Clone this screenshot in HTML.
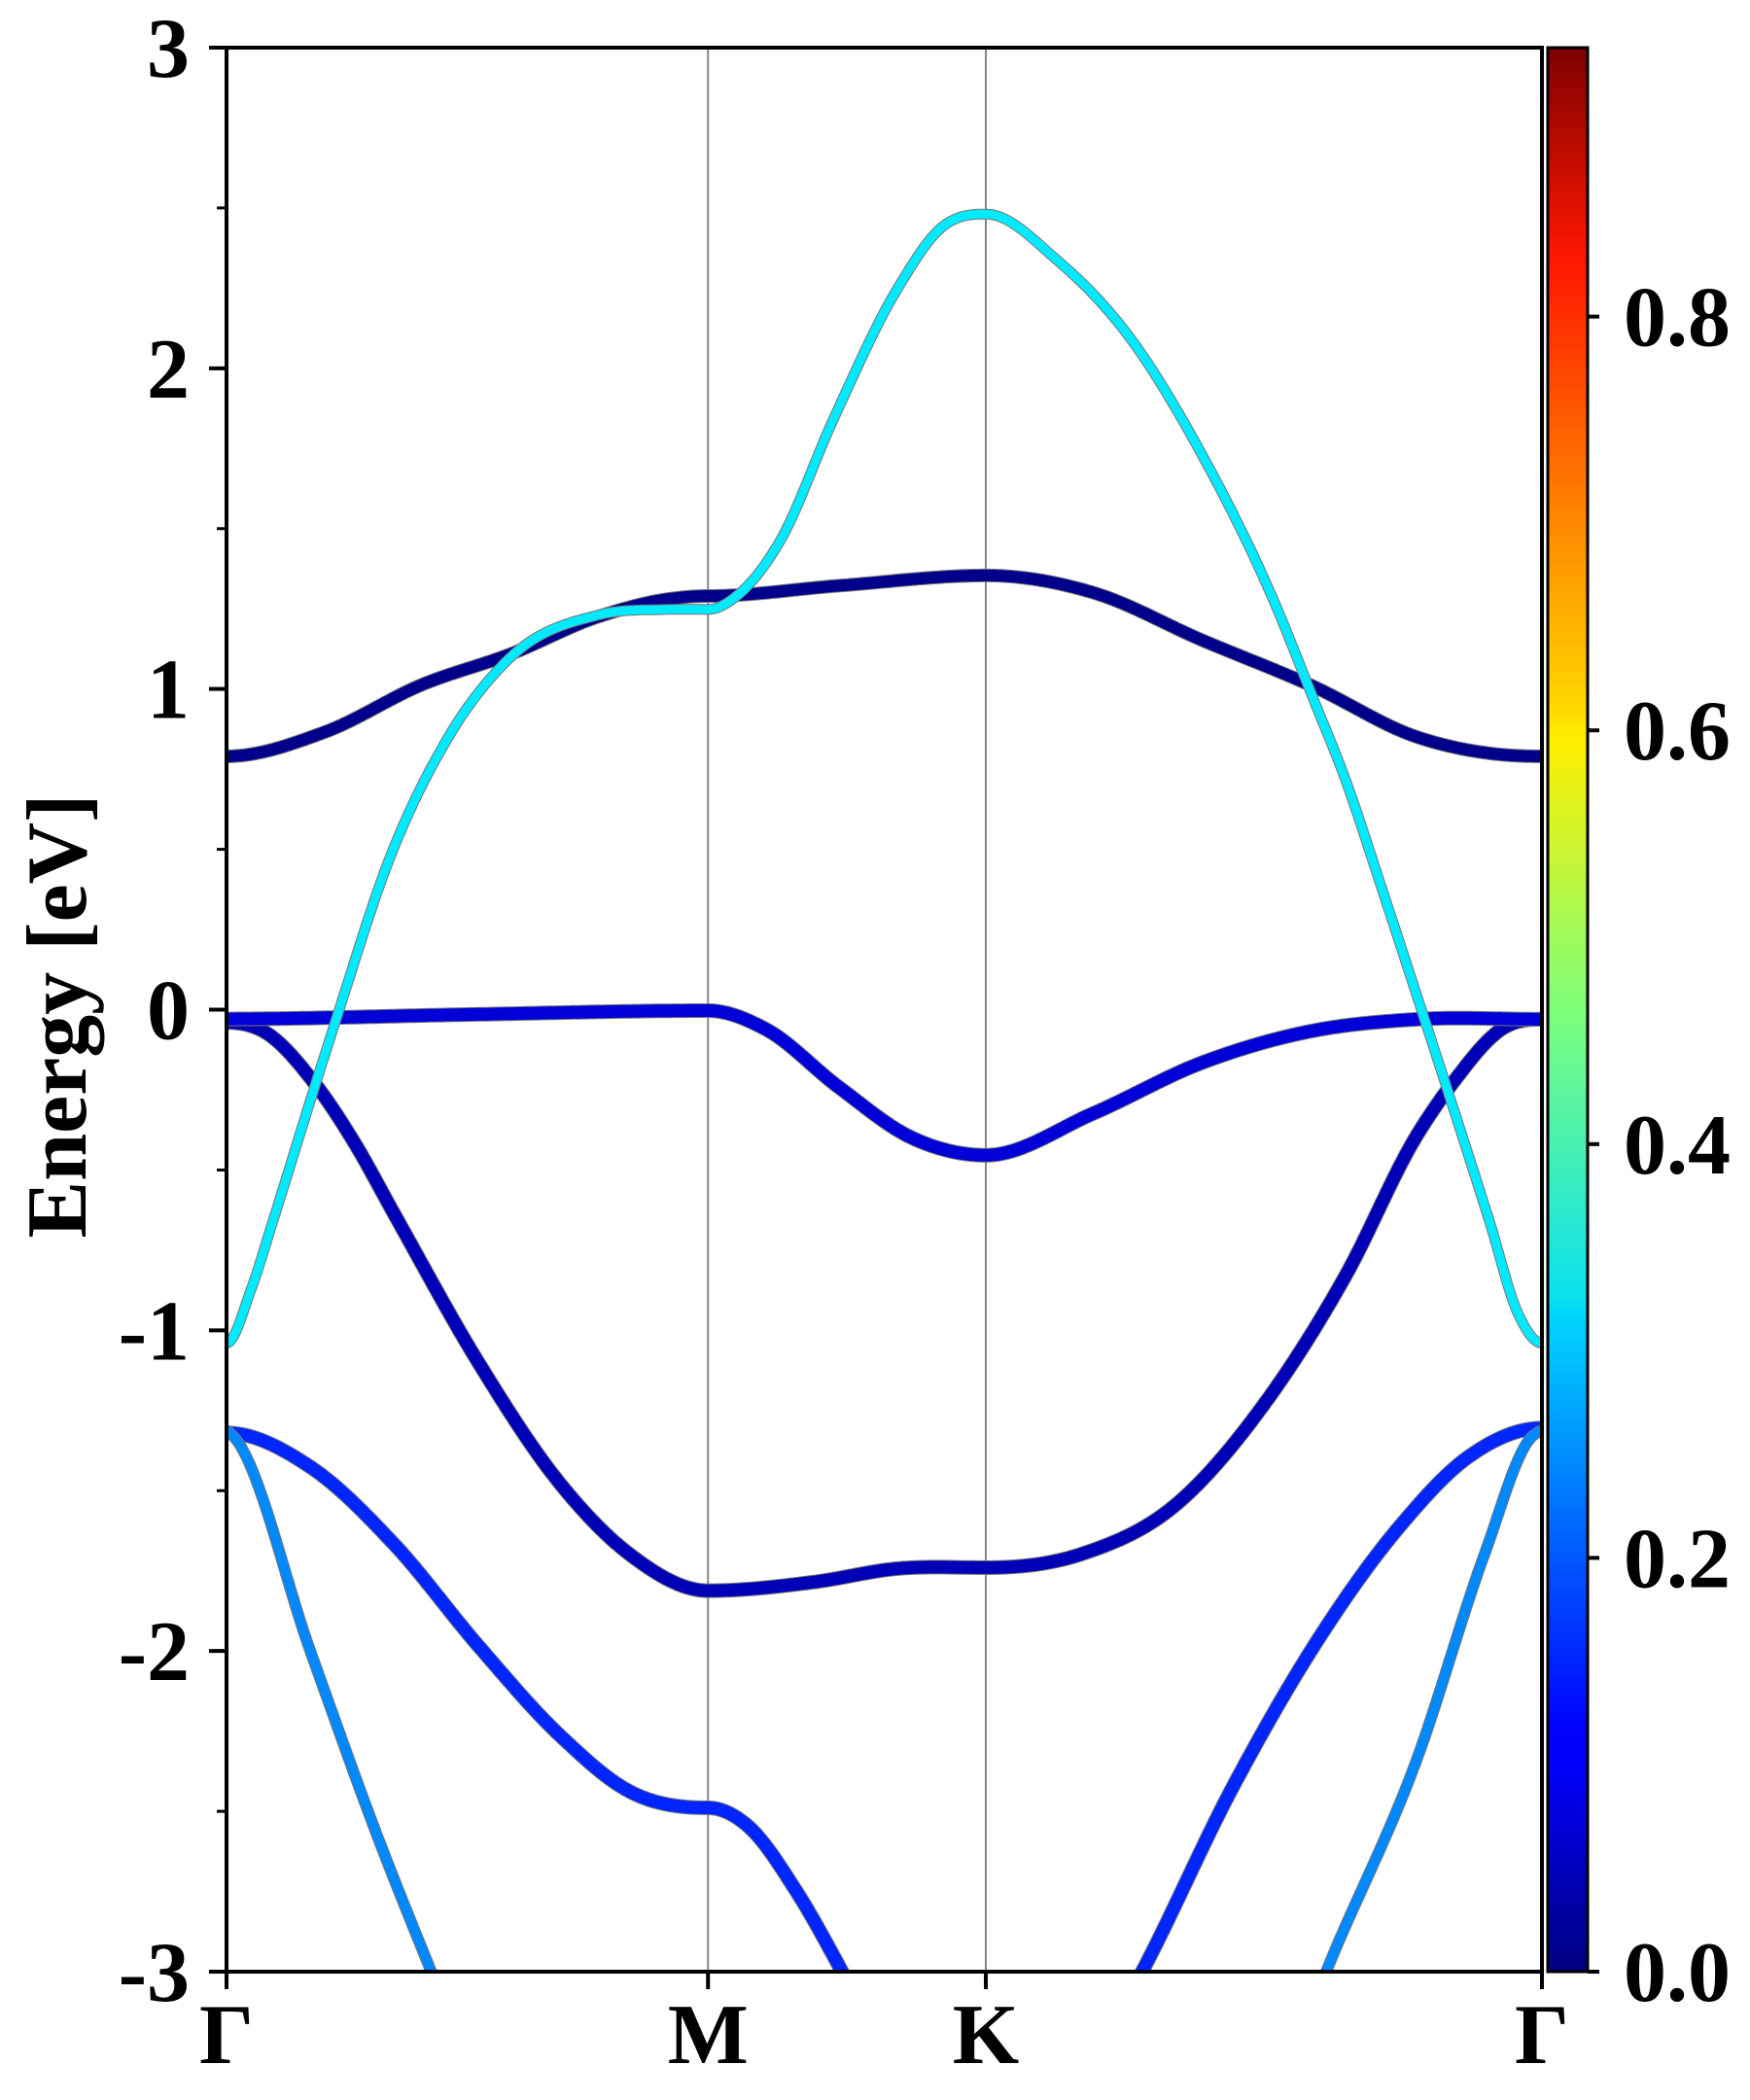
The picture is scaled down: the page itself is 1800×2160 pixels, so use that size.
<!DOCTYPE html>
<html><head><meta charset="utf-8">
<style>
html,body{margin:0;padding:0;background:#fff;overflow:hidden;width:1800px;height:2160px;}
svg{display:block;}
text{font-family:"Liberation Serif","DejaVu Serif",serif;font-weight:bold;fill:#000;}
</style></head>
<body>
<svg id="chart" width="1800" height="2160" viewBox="0 0 1800 2160" xmlns="http://www.w3.org/2000/svg">
<defs>
<clipPath id="plotclip"><rect x="233" y="49" width="1353" height="1979"/></clipPath>
<linearGradient id="jet" x1="0" y1="1" x2="0" y2="0">
<stop offset="0" stop-color="#00007f"/>
<stop offset="0.11" stop-color="#0000ff"/>
<stop offset="0.125" stop-color="#0000ff"/>
<stop offset="0.34" stop-color="#00d4ff"/>
<stop offset="0.35" stop-color="#0ae0f0"/>
<stop offset="0.5" stop-color="#7dff7a"/>
<stop offset="0.64" stop-color="#ffee00"/>
<stop offset="0.66" stop-color="#ffd400"/>
<stop offset="0.89" stop-color="#ff1700"/>
<stop offset="1" stop-color="#7f0000"/>
</linearGradient>
</defs>
<g id="plot"></g>
<g id="axes"></g>
<g id="cbar"></g>
<text x="0" y="0" font-size="88" text-anchor="middle" transform="translate(88,1045) rotate(-90)">Energy [eV]</text>
</svg>
<script>
// ---- data ----
const kLabels = ["Γ","M","K","Γ"];
const kTicks = [0, 1.0, 1.577, 2.732];
const yTicks = [-3,-2,-1,0,1,2,3];
const yTickLabels = ["-3","-2","-1","0","1","2","3"];
const cbTicks = [0.0,0.2,0.4,0.6,0.8];
const cbTickLabels = ["0.0","0.2","0.4","0.6","0.8"];
const cbMax = 0.93;

const bandCyanK = [0,0.052,0.10,0.183,0.234,0.336,0.458,0.590,0.773,0.915,1.0,1.068,1.149,1.261,1.393,1.485,1.577,1.726,1.876,2.025,2.175,2.257,2.324,2.399,2.473,2.540,2.623,2.683,2.732];
const bandCyanE = [-1.04,-0.868,-0.642,-0.241,0.0,0.461,0.843,1.099,1.231,1.248,1.248,1.301,1.46,1.843,2.247,2.439,2.481,2.336,2.096,1.733,1.275,0.97,0.717,0.38,0.04,-0.27,-0.66,-0.95,-1.04];
const bandCyanW = 0.33;

const bandTopK = [0,0.203,0.407,0.590,0.773,0.915,1.0,1.271,1.577,1.801,2.025,2.257,2.473,2.62,2.732];
const bandTopE = [0.79,0.865,1.014,1.109,1.226,1.28,1.29,1.322,1.354,1.30,1.153,1.008,0.85,0.80,0.79];
const bandTopW = 0.01;

const bandVbmK = [0,0.509,1.0,1.119,1.271,1.424,1.577,1.801,2.025,2.249,2.473,2.732];
const bandVbmE = [-0.029,-0.015,-0.003,-0.06,-0.241,-0.40,-0.454,-0.323,-0.166,-0.068,-0.03,-0.03];
const bandVbmW = 0.08;

const bandDK = [0,0.081,0.183,0.264,0.350,0.523,0.697,0.836,1.0,1.22,1.394,1.577,1.777,1.969,2.160,2.324,2.473,2.548,2.653,2.732];
const bandDE = [-0.04,-0.071,-0.23,-0.411,-0.642,-1.10,-1.486,-1.697,-1.812,-1.785,-1.743,-1.74,-1.697,-1.547,-1.22,-0.83,-0.39,-0.226,-0.056,-0.03];
const bandDW = 0.05;

const bandEK = [0,0.174,0.348,0.523,0.697,0.836,1.0,1.08,1.185,1.281,1.40,1.577,1.75,1.899,2.091,2.265,2.439,2.578,2.732];
const bandEE = [-1.32,-1.426,-1.667,-1.984,-2.27,-2.437,-2.489,-2.542,-2.753,-3.007,-3.35,-3.55,-3.4,-3.007,-2.421,-1.969,-1.607,-1.396,-1.305];
const bandEW = 0.15;

const bandFK = [0,0.017,0.174,0.314,0.427,0.52,2.18,2.282,2.474,2.613,2.709,2.732];
const bandFE = [-1.31,-1.335,-2.0,-2.58,-3.007,-3.35,-3.4,-3.007,-2.33,-1.697,-1.335,-1.31];
const bandFW = 0.24;

// ---- scales ----
const X0=233, X1=1586, Y0=49, Y1=2028, KMAX=2.732;
const xs = k => X0 + k/KMAX*(X1-X0);
const ys = e => Y1 - (e+3)/6*(Y1-Y0);
const NS='http://www.w3.org/2000/svg';
function mk(tag, attrs, parent){const el=document.createElementNS(NS,tag);for(const a in attrs)el.setAttribute(a,attrs[a]);parent.appendChild(el);return el;}

function jet(v){
  v=Math.max(0,Math.min(1,v/cbMax));
  const f=t=>Math.max(0,Math.min(1,t));
  const r=f(1.5-Math.abs(4*v-3)), g=f(1.5-Math.abs(4*v-2)), b=f(1.5-Math.abs(4*v-1));
  return `rgb(${Math.round(r*255)},${Math.round(g*255)},${Math.round(b*255)})`;
}
function isSym(k){return kTicks.some(t=>Math.abs(t-k)<1e-6);}
function smoothCurve(ks, es, flat){
  const n=ks.length, h=[], d=[], m=[];
  for(let i=0;i<n-1;i++){ h.push(ks[i+1]-ks[i]); d.push((es[i+1]-es[i])/h[i]); }
  m[0]=d[0]; m[n-1]=d[n-2];
  for(let i=1;i<n-1;i++){ m[i]=(d[i]*h[i-1]+d[i-1]*h[i])/(h[i-1]+h[i]); }
  for(let i=0;i<n;i++){ if(flat && isSym(ks[i])) m[i]=0; }
  const pts=[];
  for(let i=0;i<n-1;i++){
    const hh=h[i], steps=Math.max(6,Math.ceil(hh/0.003));
    for(let s=0;s<steps;s++){const t=s/steps,t2=t*t,t3=t2*t;
      const e=(2*t3-3*t2+1)*es[i]+(t3-2*t2+t)*hh*m[i]+(-2*t3+3*t2)*es[i+1]+(t3-t2)*hh*m[i+1];
      pts.push([xs(ks[i]+t*hh),ys(e)]);}
  }
  pts.push([xs(ks[n-1]),ys(es[n-1])]);
  return pts;
}
function pathD(pts){return pts.map((p,i)=>(i?'L':'M')+p[0].toFixed(1)+' '+p[1].toFixed(1)).join(' ');}

const plot=document.getElementById('plot');
const axes=document.getElementById('axes');
const cbar=document.getElementById('cbar');

for(let i=1;i<kTicks.length-1;i++){
  const l=mk('line',{x1:xs(kTicks[i]),x2:xs(kTicks[i]),y1:Y0,y2:Y1,stroke:'#888',"stroke-width":2},plot);
  
  
}
const bg=mk('g',{"clip-path":'url(#plotclip)'},plot);


const bands=[
 ['band-e-valence',bandEK,bandEE,bandEW,13,true],
 ['band-f-valence',bandFK,bandFE,bandFW,10,false],
 ['band-d-valence',bandDK,bandDE,bandDW,13,true],
 ['band-vbm',bandVbmK,bandVbmE,bandVbmW,13,true],
 ['band-top-conduction',bandTopK,bandTopE,bandTopW,12,true],
 ['band-cyan',bandCyanK,bandCyanE,bandCyanW,9,true]
];
bands.forEach(b=>{
  const d=pathD(smoothCurve(b[1],b[2],b[5]));
  mk('path',{d:d,fill:'none',stroke:'#777',"stroke-width":b[4]+2,"stroke-linejoin":'round'},bg);
  const p=mk('path',{d:d,fill:'none',stroke:jet(b[3]),"stroke-width":b[4],"stroke-linejoin":'round'},bg);
  
  
});

const fr=mk('rect',{x:X0,y:Y0,width:X1-X0,height:Y1-Y0,fill:'none',stroke:'#000',"stroke-width":4},axes);


yTicks.forEach((v,i)=>{
  mk('line',{x1:X0-18,x2:X0,y1:ys(v),y2:ys(v),stroke:'#000',"stroke-width":4},axes);
  const t=mk('text',{x:X0-38,y:ys(v)+30,"font-size":88,"text-anchor":'end'},axes);
  t.textContent=yTickLabels[i];
  
  
  if(i<yTicks.length-1) mk('line',{x1:X0-10,x2:X0,y1:ys(v+0.5),y2:ys(v+0.5),stroke:'#000',"stroke-width":3},axes);
});
kTicks.forEach((k,i)=>{
  mk('line',{x1:xs(k),x2:xs(k),y1:Y1,y2:Y1+18,stroke:'#000',"stroke-width":4},axes);
  const t=mk('text',{x:xs(k),y:2122,"font-size":88,"text-anchor":'middle'},axes);
  t.textContent=kLabels[i];
  
  
});
const CX0=1592, CX1=1633;
const cr=mk('rect',{x:CX0,y:Y0,width:CX1-CX0,height:Y1-Y0,fill:'url(#jet)',stroke:'#000',"stroke-width":3},cbar);


cbTicks.forEach((v,i)=>{
  const y=Y1-v/cbMax*(Y1-Y0);
  mk('line',{x1:CX1,x2:CX1+12,y1:y,y2:y,stroke:'#000',"stroke-width":4},cbar);
  const t=mk('text',{x:1670,y:y+30,"font-size":88},cbar);
  t.textContent=cbTickLabels[i];
  
  
});
</script>
</body></html>
